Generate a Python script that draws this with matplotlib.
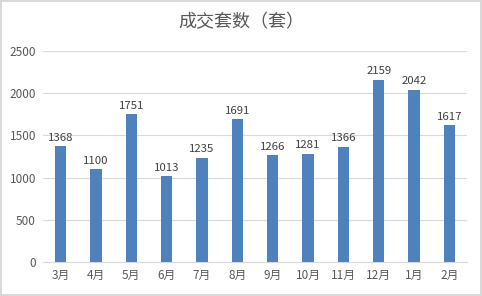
import numpy as np
import matplotlib.pyplot as plt

plt.rcParams['font.family'] = ['Noto Sans CJK SC', 'DejaVu Sans']

months = ['3月', '4月', '5月', '6月', '7月', '8月', '9月', '10月', '11月', '12月', '1月', '2月']
deals = [1368, 1100, 1751, 1013, 1235, 1691, 1266, 1281, 1366, 2159, 2042, 1617]

fig = plt.figure(figsize=(4.82, 2.96), dpi=100)
fig.patch.set_edgecolor('#d9d9d9')
fig.patch.set_linewidth(1.5)
ax = fig.add_axes([0.089, 0.115, 0.88, 0.713])

x = np.arange(len(months))
bars = ax.bar(x, deals, width=0.32, color='#4f81bd', zorder=3)
for xi, v in zip(x, deals):
    ax.text(xi, v + 40, str(v), ha='center', va='bottom', fontsize=8.2, color='#404040')

ax.set_xlim(-0.5, len(months) - 0.5)
ax.set_ylim(0, 2500)
ax.set_yticks(np.arange(0, 2501, 500))
ax.set_xticks(x)
ax.set_xticklabels(months)
ax.grid(axis='y', color='#d9d9d9', linewidth=0.8, zorder=0)
for s in ax.spines.values():
    s.set_visible(False)
ax.spines['bottom'].set_visible(True)
ax.spines['bottom'].set_color('#d9d9d9')
ax.tick_params(length=0, labelsize=8.5, labelcolor='#595959', pad=5)

fig.text(0.5, 0.925, '成交套数（套）', ha='center', va='center', fontsize=13, color='#595959')

fig.savefig('out.png', dpi=100)
